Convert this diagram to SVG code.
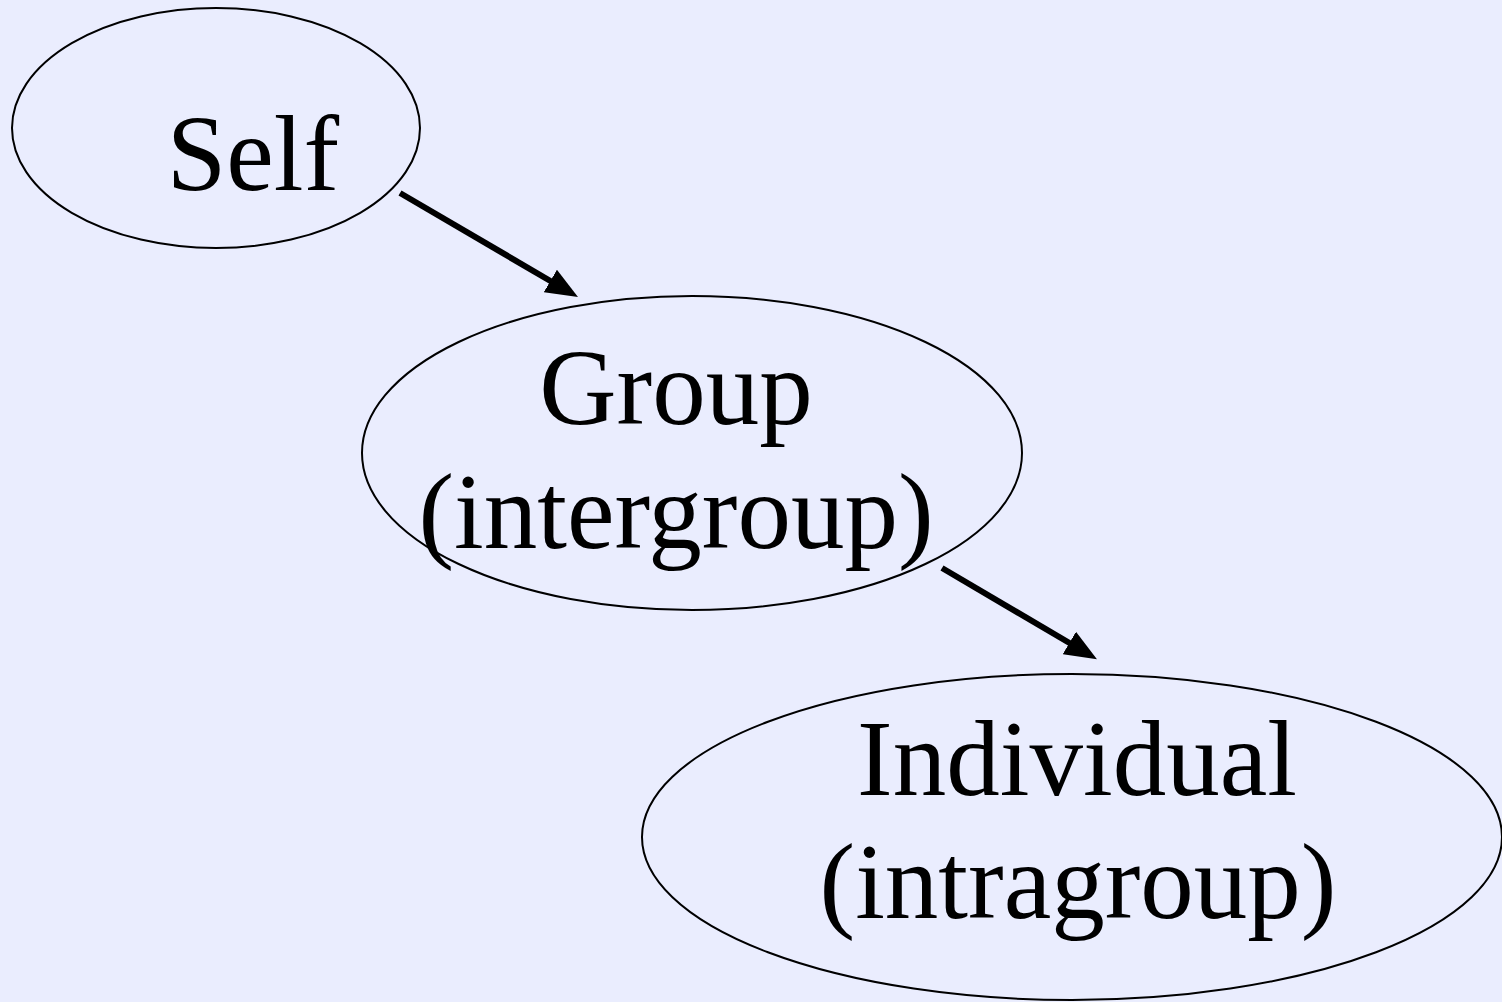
<svg xmlns="http://www.w3.org/2000/svg" width="1502" height="1002" viewBox="0 0 1502 1002">
<style>
.node ellipse{fill:none;stroke:#000;stroke-width:2}
.node text{font-family:"Liberation Serif","Times New Roman",serif;font-size:107px;fill:#000;text-anchor:middle}
.conn line{stroke:#000;stroke-width:6}
</style>
<defs>
<marker id="ah" viewBox="0 0 32 26" refX="10" refY="13" markerWidth="32" markerHeight="26" markerUnits="userSpaceOnUse" orient="auto">
<path d="M0,0 L32,13 L0,26 z" fill="#000"/>
</marker>
</defs>
<rect width="1502" height="1002" fill="#EAEDFE"/>
<g id="self" class="node">
<ellipse cx="216" cy="128" rx="204" ry="120"/>
<text x="253" y="190">Self</text>
</g>
<g id="group" class="node">
<ellipse cx="692" cy="453" rx="330" ry="157"/>
<text x="676" y="424">Group</text>
<text x="676" y="548">(intergroup)</text>
</g>
<g id="individual" class="node">
<ellipse cx="1072" cy="837" rx="430" ry="163"/>
<text x="1077" y="795">Individual</text>
<text x="1078" y="918">(intragroup)</text>
</g>
<g id="connectors" class="conn">
<line x1="400" y1="193" x2="559" y2="286" marker-end="url(#ah)"/>
<line x1="942" y1="568" x2="1078" y2="648" marker-end="url(#ah)"/>
</g>
</svg>
